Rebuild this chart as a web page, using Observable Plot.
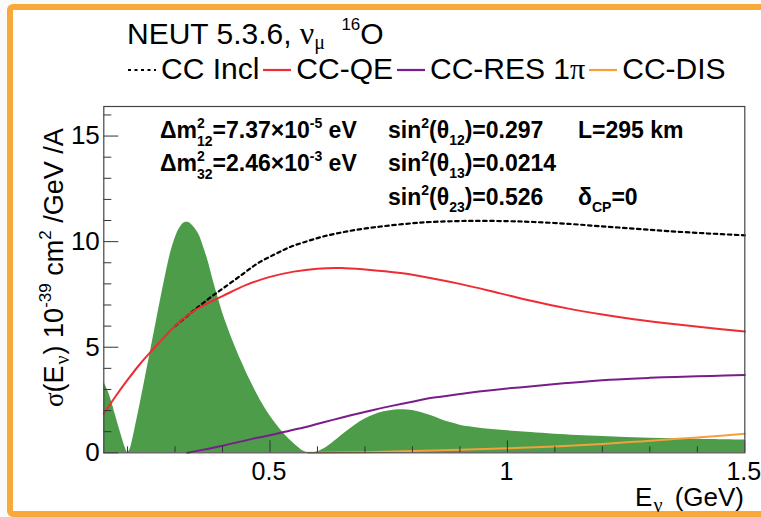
<!DOCTYPE html>
<html>
<head>
<meta charset="utf-8">
<script src="https://cdn.jsdelivr.net/npm/d3@7"></script>
<script src="https://cdn.jsdelivr.net/npm/@observablehq/plot@0.6"></script>
<style>
  html, body { margin: 0; padding: 0; background: #fafafa; }
  #wrap { position: relative; width: 761px; height: 517px; overflow: hidden; background: #fafafa; font-family: "Liberation Sans", Arial, sans-serif; color: #000; }
  #panel { position: absolute; left: 7px; top: 4px; width: 800px; height: 513px; box-sizing: border-box; border: 6px solid #f9a83a; border-radius: 6px; background: #fff; }
  #header { position: relative; height: 60px; }
  #chart { position: absolute; left: 0; top: 60px; }
  .abs { position: absolute; white-space: nowrap; line-height: 1; }
  .serif { font-family: "Liberation Serif", "DejaVu Serif", serif; }
  .title { left: 127px; top: 16.9px; font-size: 30px; }
  .legend { left: 128px; top: 53.5px; font-size: 30px; display: flex; align-items: baseline; }
  .legend .sym { display: inline-block; width: 28px; margin-right: 5px; position: relative; top: -7px; }
  .legend .txt { margin-right: 4px; }
  .ann { font-size: 23px; font-weight: bold; }
  .sp { position: relative; font-size: 14px; top: -10px; }
  .sb { position: relative; font-size: 14px; top: 7px; }
  .stk { display: inline-block; position: relative; }
  .stk .b { display: block; font-size: 14px; line-height: 1; position: relative; top: 8px; }
  .stk .t { position: absolute; left: 0; top: -10px; font-size: 14px; line-height: 1; }
  .xlab { right: 17px; top: 484px; font-size: 26px; }
  .ylab { left: 41px; top: 407px; font-size: 27px; transform-origin: 0 0; transform: rotate(-90deg); }
  .nusub { font-family: "Liberation Serif", "DejaVu Serif", serif; position: relative; top: 6px; font-size: 20px; margin: 0 5px 0 1px; }
</style>
</head>
<body>
<div id="wrap">
  <div id="panel"></div>
  <div id="header"></div>
  <div id="chart"></div>
</div>
<script>
// ---------------- data ----------------
// oscillated nu_mu flux shape (arbitrary units, green filled)
const oscE = [0.15,0.16,0.17,0.18,0.19,0.195,0.2,0.205,0.21,0.22,0.23,0.24,0.25,0.26,0.27,0.28,0.29,0.30,0.31,0.32,0.33,0.34,0.35,0.36,0.37,0.38,0.39,0.40,0.41,0.42,0.43,0.44,0.45,0.46,0.47,0.48,0.50,0.52,0.54,0.56,0.57,0.58,0.59,0.60,0.62,0.64,0.66,0.68,0.70,0.72,0.74,0.76,0.78,0.80,0.82,0.84,0.86,0.88,0.90,0.92,0.95,1.0,1.05,1.1,1.2,1.3,1.4,1.5];
const oscV = [3.35,2.85,2.15,1.35,0.6,0.25,0.02,0.15,0.55,1.6,2.7,3.85,5.0,6.15,7.3,8.4,9.4,10.15,10.65,10.9,10.9,10.68,10.35,9.75,9.05,8.2,7.4,6.65,6.0,5.4,4.85,4.32,3.82,3.35,2.9,2.48,1.75,1.15,0.65,0.25,0.08,0.01,0.0,0.05,0.28,0.62,0.98,1.32,1.6,1.8,1.94,2.02,2.04,2.0,1.9,1.75,1.58,1.43,1.31,1.23,1.14,1.04,0.96,0.88,0.77,0.69,0.64,0.6];

// CC inclusive (dotted black)
const inclE = [0.3,0.333,0.354,0.38,0.403,0.44,0.473,0.51,0.543,0.58,0.613,0.65,0.684,0.72,0.754,0.8,0.838,0.915,1.0,1.056,1.13,1.196,1.27,1.337,1.42,1.5];
const inclV = [6.0,6.62,7.0,7.45,7.82,8.42,8.96,9.4,9.75,10.03,10.25,10.43,10.57,10.68,10.77,10.87,10.93,10.98,10.97,10.93,10.84,10.73,10.61,10.5,10.39,10.3];

// CC-QE (red)
const qeE = [0.15,0.175,0.2,0.225,0.25,0.275,0.3,0.333,0.36,0.4,0.45,0.5,0.55,0.6,0.65,0.7,0.775,0.84,0.9,0.985,1.05,1.126,1.2,1.266,1.33,1.407,1.5];
const qeV = [1.85,2.68,3.45,4.17,4.81,5.42,6.0,6.62,6.98,7.42,7.95,8.33,8.58,8.72,8.75,8.68,8.51,8.27,8.0,7.55,7.2,6.84,6.55,6.33,6.15,5.96,5.74];

// CC-RES 1pi (purple)
const resE = [0.326,0.36,0.403,0.44,0.473,0.51,0.543,0.58,0.613,0.65,0.684,0.72,0.754,0.8,0.838,0.9,0.94,1.0,1.031,1.124,1.216,1.3,1.354,1.43,1.5];
const resV = [0,0.15,0.35,0.54,0.71,0.88,1.06,1.25,1.45,1.66,1.85,2.04,2.21,2.42,2.59,2.78,2.9,3.05,3.11,3.30,3.46,3.55,3.59,3.64,3.68];

// CC-DIS (orange)
const disE = [0.58,0.7,0.8,0.9,1.0,1.1,1.2,1.28,1.35,1.4,1.45,1.5];
const disV = [0,0.03,0.08,0.14,0.21,0.3,0.42,0.54,0.65,0.73,0.81,0.9];

// ticks
const xMajor = [0.5, 1, 1.5];
const xMinor = [0.2,0.3,0.4,0.6,0.7,0.8,0.9,1.1,1.2,1.3,1.4];
const yMajor = [0, 5, 10, 15];
const yMinor = [1,2,3,4,6,7,8,9,11,12,13,14,16];

// legend
const legendLabels = ["CC Incl", "CC-QE", "CC-RES 1<span class='serif'>π</span>", "CC-DIS"];
const legendColors = ["#000000", "#ee2c34", "#7a1d8c", "#f4a03c"];
const legendDash = ["3 3.5", null, null, null];

// ---------------- chart ----------------
const GREEN = "#4c9c4a";
const tbl = (xs, ys) => xs.map((E, i) => ({E, v: ys[i]}));

const W = 761, H = 457;
const mT = 46, mB = 64.7, mL = 103.3, mR = 16.7;
const innerW = W - mL - mR, innerH = H - mT - mB;

const chart = Plot.plot({
  width: W, height: H,
  marginTop: mT, marginBottom: mB, marginLeft: mL, marginRight: mR,
  x: {domain: [0.15, 1.5]},
  y: {domain: [0, 16.4]},
  style: {fontFamily: "'Liberation Sans', Arial, sans-serif", color: "#000", background: "transparent"},
  marks: [
    Plot.areaY(tbl(oscE, oscV), {x: "E", y: "v", fill: GREEN, curve: "catmull-rom", clip: true}),
    Plot.line(tbl(inclE, inclV), {x: "E", y: "v", stroke: legendColors[0], strokeWidth: 2.2, strokeDasharray: "3.5 3.5", curve: "catmull-rom"}),
    Plot.line(tbl(qeE, qeV), {x: "E", y: "v", stroke: legendColors[1], strokeWidth: 2, curve: "catmull-rom"}),
    Plot.line(tbl(resE, resV), {x: "E", y: "v", stroke: legendColors[2], strokeWidth: 2, curve: "catmull-rom"}),
    Plot.line(tbl(disE, disV), {x: "E", y: "v", stroke: legendColors[3], strokeWidth: 2, curve: "monotone-x"}),
    Plot.tickX(xMajor, {x: d => d, stroke: "#333", insetTop: innerH - 12}),
    Plot.tickX(xMinor, {x: d => d, stroke: "#333", insetTop: innerH - 6}),
    Plot.tickY(yMajor, {y: d => d, stroke: "#333", insetRight: innerW - 15}),
    Plot.tickY(yMinor, {y: d => d, stroke: "#333", insetRight: innerW - 8}),
    Plot.axisX(xMajor, {tickSize: 0, tickPadding: 9, fontSize: 25, dx: -1, label: null, tickFormat: d => String(d)}),
    Plot.axisY(yMajor, {tickSize: 0, tickPadding: 4, fontSize: 26, label: null, tickFormat: d => String(d)}),
    Plot.frame({stroke: "#444", strokeWidth: 1.2})
  ]
});
document.getElementById("chart").appendChild(chart);

// ---------------- texts ----------------
const wrap = document.getElementById("wrap");
function addDiv(cls, html, style) {
  const d = document.createElement("div");
  d.className = "abs " + cls;
  d.innerHTML = html;
  if (style) Object.assign(d.style, style);
  wrap.appendChild(d);
  return d;
}

addDiv("title", "NEUT 5.3.6, <span class='serif' style='font-size:32px'>ν</span><span class='serif' style='position:relative;top:5px;font-size:20px'>μ</span> <span style='position:relative;top:-14px;font-size:17px;margin-left:8px'>16</span>O");

// legend row
const leg = addDiv("legend", "");
legendLabels.forEach((lab, i) => {
  const s = document.createElement("span");
  s.className = "sym";
  s.innerHTML = `<svg width="28" height="4" style="display:block"><line x1="0" x2="28" y1="2" y2="2" stroke="${legendColors[i]}" stroke-width="2.2" ${legendDash[i] ? `stroke-dasharray="${legendDash[i]}"` : ""}/></svg>`;
  leg.appendChild(s);
  const t = document.createElement("span");
  t.className = "txt";
  t.innerHTML = lab;
  leg.appendChild(t);
});

// oscillation parameters
const stk = (t, b) => `<span class="stk"><span class="b">${b}</span><span class="t">${t}</span></span>`;
addDiv("ann", `Δm${stk("2", "12")}=7.37×10<span class="sp">-5</span> eV`, {left: "160px", top: "118.8px"});
addDiv("ann", `Δm${stk("2", "32")}=2.46×10<span class="sp">-3</span> eV`, {left: "160px", top: "152.2px"});
addDiv("ann", `sin<span class="sp">2</span>(θ<span class="sb">12</span>)=0.297`, {left: "388px", top: "118.8px"});
addDiv("ann", `sin<span class="sp">2</span>(θ<span class="sb">13</span>)=0.0214`, {left: "388px", top: "152.2px"});
addDiv("ann", `sin<span class="sp">2</span>(θ<span class="sb">23</span>)=0.526`, {left: "388px", top: "185.5px"});
addDiv("ann", `L=295 km`, {left: "578px", top: "118.8px"});
addDiv("ann", `δ<span class="sb">CP</span>=0`, {left: "578px", top: "185.5px"});

// axis titles
addDiv("xlab", `E<span class="nusub">ν</span> (GeV)`);
addDiv("ylab", `<span class="serif">σ</span>(E<span class="nusub" style="margin:0 1px">ν</span>) 10<span style="position:relative;top:-12px;font-size:17px">-39</span> cm<span style="position:relative;top:-12px;font-size:17px">2</span> /GeV /A`);
</script>
</body>
</html>
